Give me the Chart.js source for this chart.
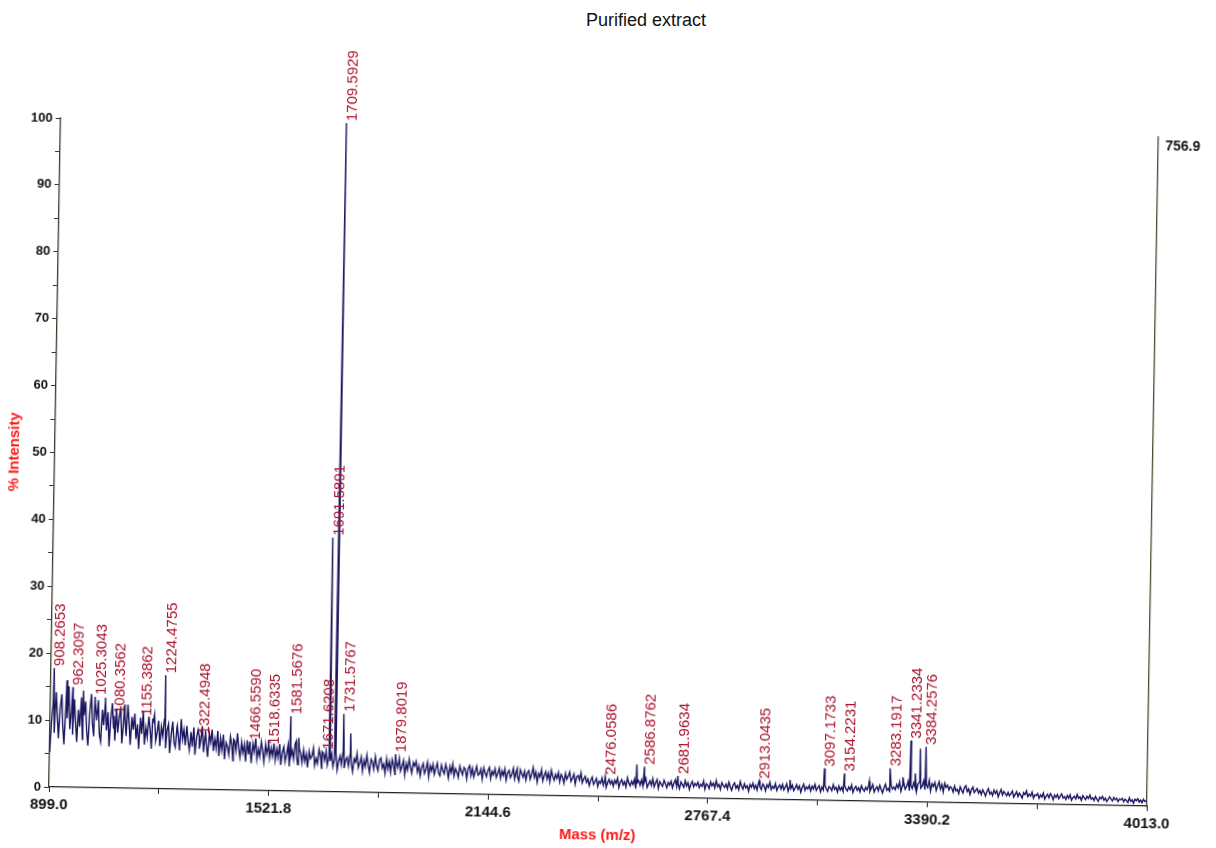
<!DOCTYPE html>
<html>
<head>
<meta charset="utf-8">
<script src="https://cdn.jsdelivr.net/npm/chart.js@4.4.1/dist/chart.umd.min.js"></script>
<style>
  html, body { margin: 0; padding: 0; background: #fff; width: 1216px; height: 848px; overflow: hidden; }
  #title { position: absolute; left: 646px; top: 9px; transform: translateX(-50%);
           font: 18px "Liberation Sans", Arial, sans-serif; color: #111; white-space: nowrap; line-height: 22px; }
  #wrap { position: absolute; left: 0; top: 0; width: 1216px; height: 848px;
          transform: rotate(1deg); transform-origin: 49px 787px; }
</style>
</head>
<body>
<div id="title">Purified extract</div>
<div id="wrap"><canvas id="spectrum"></canvas></div>
<script>
// Axis ticks (m/z) and labels
const xMajorTicks = [899.0, 1521.8, 2144.6, 2767.4, 3390.2, 4013.0];
const xTickLabels = ['899.0', '1521.8', '2144.6', '2767.4', '3390.2', '4013.0'];
const yTickLabels = ['0', '10', '20', '30', '40', '50', '60', '70', '80', '90', '100'];
const rightAxisLabel = '756.9';

// Baseline trace: % intensity sampled every 4 Da from 899 Da (20 samples per row)
const massStart = 899;
const massStep = 4;
const noiseIntensity = [
  5.2, 9.8, 12.6, 8.1, 14.2, 10.9, 7.3, 11.8, 13.9, 9.2, 6.4, 12.1, 10.3, 15.1, 8.7, 11.4, 7.9, 13.2, 10.0, 6.8,
  11.6, 9.1, 13.5, 7.2, 10.8, 12.9, 8.4, 6.3, 11.2, 14.0, 9.6, 7.7, 12.3, 10.1, 13.1, 8.0, 6.9, 11.7, 9.4, 12.8,
  8.6, 11.3, 6.2, 10.4, 12.7, 9.0, 7.1, 11.9, 8.3, 10.6, 12.2, 6.7, 9.5, 11.0, 7.8, 12.5, 9.9, 6.5, 10.7, 8.8,
  11.2, 7.4, 9.6, 5.9, 10.3, 8.2, 11.5, 6.6, 9.1, 7.7, 10.8, 8.9, 6.0, 9.8, 11.1, 7.2, 8.5, 10.2, 6.4, 9.3,
  7.9, 10.4, 6.1, 8.8, 9.7, 5.4, 8.2, 10.1, 7.0, 6.3, 9.2, 8.0, 5.8, 10.5, 7.5, 8.9, 6.6, 9.5, 7.2, 5.9,
  8.6, 6.4, 9.3, 5.2, 7.8, 8.9, 6.1, 7.3, 9.5, 5.6, 8.0, 6.8, 4.9, 8.4, 7.1, 9.0, 5.8, 7.6, 6.2, 8.8,
  5.1, 7.7, 6.0, 8.3, 4.6, 7.1, 6.5, 5.3, 8.0, 6.8, 4.4, 7.4, 5.9, 8.5, 6.2, 4.9, 7.2, 5.6, 6.9, 4.3,
  7.5, 5.4, 6.6, 4.1, 7.0, 5.8, 7.8, 4.7, 6.2, 5.1, 7.3, 6.0, 4.3, 6.9, 5.5, 7.6, 4.9, 6.4, 5.2, 7.1,
  4.6, 6.3, 5.0, 7.0, 3.9, 5.8, 6.6, 4.4, 5.5, 6.9, 3.7, 5.2, 6.1, 4.8, 7.1, 5.4, 4.0, 6.4, 5.7, 4.3,
  6.2, 4.5, 5.6, 3.6, 6.0, 4.9, 5.3, 6.5, 3.9, 5.0, 4.2, 6.3, 5.4, 3.5, 5.8, 4.7, 6.1, 4.0, 5.2, 4.6,
  5.7, 3.8, 4.9, 5.9, 3.3, 4.6, 5.4, 4.1, 6.0, 3.6, 4.8, 5.2, 3.9, 5.6, 4.3, 3.1, 5.0, 4.5, 5.8, 3.7,
  4.4, 5.3, 3.2, 4.8, 3.9, 5.6, 4.1, 3.0, 5.0, 4.6, 3.5, 5.4, 4.0, 3.3, 4.9, 5.2, 3.7, 4.3, 2.9, 5.1,
  3.6, 4.7, 3.1, 5.0, 4.2, 2.8, 4.5, 3.8, 5.2, 3.3, 4.0, 4.9, 2.7, 4.4, 3.5, 5.1, 3.9, 3.0, 4.6, 4.1,
  4.8, 3.2, 4.1, 2.6, 3.9, 4.5, 3.0, 3.6, 4.7, 2.5, 4.2, 3.4, 4.4, 2.9, 3.8, 4.6, 3.1, 2.7, 4.3, 3.5,
  3.0, 4.4, 3.6, 2.4, 4.1, 3.2, 4.5, 2.7, 3.8, 3.3, 2.5, 4.2, 3.5, 2.9, 4.0, 3.7, 2.3, 3.9, 4.3, 2.8,
  3.9, 2.6, 3.4, 4.2, 2.9, 3.1, 3.8, 2.3, 4.0, 3.3, 2.7, 3.6, 4.1, 2.4, 3.5, 3.0, 3.9, 2.6, 3.2, 4.0,
  2.5, 3.6, 2.9, 3.9, 2.2, 3.3, 3.7, 2.6, 3.1, 4.0, 2.4, 3.5, 2.8, 2.1, 3.8, 3.2, 2.7, 3.6, 2.3, 3.4,
  3.7, 2.4, 3.1, 4.2, 2.7, 3.5, 2.0, 3.3, 2.8, 3.9, 2.2, 3.0, 3.6, 2.5, 3.4, 2.1, 3.8, 2.9, 2.3, 3.2,
  2.6, 3.5, 2.1, 3.2, 2.8, 1.9, 3.4, 2.5, 3.0, 3.6, 2.2, 2.7, 3.3, 1.8, 2.9, 3.1, 2.4, 3.5, 2.0, 2.6,
  3.0, 2.1, 2.6, 1.6, 2.4, 2.9, 1.8, 2.2, 2.7, 1.5, 2.3, 2.0, 2.8, 1.7, 2.5, 1.4, 2.1, 2.6, 1.9, 2.4,
  1.6, 2.5, 2.0, 2.8, 1.4, 2.2, 2.6, 1.8, 2.3, 1.5, 2.9, 2.1, 1.7, 2.4, 1.9, 2.7, 1.3, 2.2, 2.5, 1.8,
  2.6, 1.7, 2.3, 2.9, 1.5, 2.0, 2.5, 1.8, 2.8, 1.6, 2.2, 2.7, 1.4, 2.4, 2.0, 1.7, 2.6, 2.1, 1.5, 2.3,
  1.9, 2.5, 1.5, 2.2, 2.7, 1.7, 2.1, 1.4, 2.4, 2.0, 1.6, 2.6, 1.8, 2.3, 1.3, 2.1, 2.5, 1.7, 2.2, 1.9,
  2.4, 1.6, 2.1, 1.8, 2.6, 1.4, 2.2, 2.0, 1.5, 2.5, 1.9, 2.3, 1.6, 2.7, 1.8, 2.1, 1.4, 2.4, 2.0, 1.7,
  2.2, 1.5, 2.5, 1.8, 1.3, 2.1, 2.4, 1.6, 2.0, 1.4, 2.6, 1.9, 1.5, 2.3, 1.7, 2.0, 1.2, 2.2, 1.8, 2.4,
  1.6, 2.1, 1.4, 2.5, 1.9, 1.5, 2.3, 2.0, 1.3, 2.2, 1.8, 2.6, 1.5, 2.0, 1.7, 2.4, 1.4, 1.9, 2.2, 1.6,
  2.3, 1.5, 1.9, 2.4, 1.3, 2.0, 1.7, 2.2, 1.4, 1.8, 2.3, 1.6, 2.1, 1.2, 1.9, 2.4, 1.5, 2.0, 1.7, 2.2,
  1.4, 2.1, 1.7, 2.4, 1.5, 1.9, 2.2, 1.3, 2.0, 1.6, 2.3, 1.8, 1.4, 2.1, 1.9, 1.5, 2.4, 1.7, 2.0, 1.3,
  2.2, 1.6, 2.0, 1.4, 2.3, 1.8, 1.5, 2.1, 1.7, 2.4, 1.3, 1.9, 2.2, 1.6, 2.0, 1.4, 2.3, 1.8, 1.5, 2.1,
  1.7, 2.3, 1.5, 2.0, 2.5, 1.4, 1.9, 2.2, 1.6, 2.4, 1.8, 1.3, 2.1, 2.6, 1.7, 2.0, 1.5, 2.4, 1.9, 2.2,
  1.8, 2.6, 2.1, 3.0, 1.6, 2.4, 2.8, 1.9, 2.3, 3.1, 1.7, 2.5, 2.0, 2.9, 2.2, 1.6, 2.7, 3.0, 2.1, 2.4,
  3.2, 1.9, 2.6, 2.2, 3.3, 1.7, 2.8, 2.4, 3.0, 1.8, 2.5, 3.1, 2.0, 2.7, 1.6, 2.9, 2.3, 2.6, 1.9, 2.4,
  2.2, 1.6, 2.5, 1.8, 2.0, 1.4, 2.4, 1.9, 1.5, 2.3, 2.6, 1.7, 2.1, 1.3, 2.0, 2.4, 1.6, 1.9, 2.2, 1.5,
  1.9, 1.3, 2.0, 1.6, 1.1, 1.8, 2.2, 1.4, 1.7, 1.2, 2.0, 1.5, 1.9, 1.0, 1.6, 2.1, 1.3, 1.8, 1.5, 1.2,
  1.7, 1.2, 1.5, 1.9, 1.0, 1.4, 1.8, 1.1, 1.6, 1.3, 0.9, 1.7, 1.4, 1.95, 1.1, 1.5, 1.2, 1.8, 0.9, 1.4,
  1.3, 1.6, 0.9, 1.4, 1.1, 1.7, 0.8, 1.2, 1.5, 1.0, 1.6, 1.3, 0.7, 1.4, 1.1, 1.5, 0.9, 1.3, 1.6, 1.0,
  1.2, 0.8, 1.4, 1.0, 1.5, 0.7, 1.1, 1.3, 0.9, 1.55, 1.0, 1.2, 0.7, 1.4, 1.1, 0.8, 1.3, 1.0, 1.5, 0.9,
  1.1, 0.7, 1.3, 0.9, 0.6, 1.2, 1.0, 1.35, 0.8, 1.1, 0.6, 0.9, 1.3, 1.0, 0.7, 1.2, 0.9, 1.1, 0.6, 1.0,
  0.9, 1.1, 0.6, 1.0, 0.8, 0.5, 1.2, 0.7, 0.9, 0.4, 1.0, 0.8, 1.1, 0.6, 0.9, 0.5, 1.0, 0.7, 0.8, 0.6
];

// Annotated peaks
const peakMass = [908.2653, 962.3097, 1025.3043, 1080.3562, 1155.3862, 1224.4755, 1322.4948,
  1466.5590, 1518.6335, 1581.5676, 1671.6208, 1691.5891, 1709.5929, 1731.5767, 1879.8019,
  2476.0586, 2586.8762, 2681.9634, 2913.0435, 3097.1733, 3154.2231, 3283.1917, 3341.2334, 3384.2576];
const peakIntensity = [17.8, 15.0, 13.6, 10.8, 10.6, 17.0, 8.0,
  7.3, 6.6, 11.2, 6.0, 38.0, 100, 11.7, 5.8,
  3.0, 4.6, 3.3, 2.8, 4.8, 4.1, 5.0, 9.2, 8.3];
const peakLabel = ['908.2653', '962.3097', '1025.3043', '1080.3562', '1155.3862', '1224.4755', '1322.4948',
  '1466.5590', '1518.6335', '1581.5676', '1671.6208', '1691.5891', '1709.5929', '1731.5767', '1879.8019',
  '2476.0586', '2586.8762', '2681.9634', '2913.0435', '3097.1733', '3154.2231', '3283.1917', '3341.2334', '3384.2576'];

// Unlabelled spikes
const minorPeakMass = [945, 992, 1055, 1110, 1190, 1260, 1340, 1420, 1598, 1605, 1752, 2226, 2565, 3000, 3225, 3320, 3355, 3368];
const minorPeakIntensity = [16.0, 14.5, 13.5, 12.5, 10.5, 9.5, 8.8, 7.6, 7.5, 8.0, 8.8, 4.0, 4.9, 3.0, 3.0, 3.7, 4.3, 8.0];

const traceColor = '#1a1660';
const labelColor = '#a8122c';
const fontFamily = '"Liberation Sans", Arial, Helvetica, sans-serif';

// One continuous profile: baseline samples with the peak apexes merged in by mass
const tracePoints = noiseIntensity.map((v, i) => ({ x: massStart + i * massStep, y: v }))
  .concat(peakMass.map((m, i) => ({ x: m, y: peakIntensity[i] })))
  .concat(minorPeakMass.map((m, i) => ({ x: m, y: minorPeakIntensity[i] })))
  .sort((a, b) => a.x - b.x);

const xTickValues = [];
xMajorTicks.forEach((v, i) => {
  xTickValues.push(v);
  if (i < xMajorTicks.length - 1) xTickValues.push((v + xMajorTicks[i + 1]) / 2);
});

// Rotated m/z labels above the annotated peak apexes (dataset 0)
const peakLabelPlugin = {
  id: 'peakLabels',
  afterDatasetsDraw(chart) {
    const meta = chart.getDatasetMeta(0);
    const ctx = chart.ctx;
    ctx.save();
    ctx.font = '15px ' + fontFamily;
    ctx.fillStyle = labelColor;
    ctx.textAlign = 'left';
    ctx.textBaseline = 'middle';
    peakLabel.forEach((txt, i) => {
      const el = meta.data[i];
      ctx.save();
      ctx.translate(el.x + 6, el.y - 2);
      ctx.rotate(-Math.PI / 2);
      ctx.fillText(txt, 0, 0);
      ctx.restore();
    });
    ctx.restore();
  }
};

new Chart(document.getElementById('spectrum'), {
  type: 'line',
  data: {
    datasets: [
      {
        data: peakMass.map((m, i) => ({ x: m, y: peakIntensity[i] })),
        showLine: false,
        pointRadius: 0,
        order: 0
      },
      {
        data: tracePoints,
        borderColor: traceColor,
        borderWidth: 1.4,
        pointRadius: 0,
        tension: 0,
        order: 1
      }
    ]
  },
  options: {
    responsive: true,
    maintainAspectRatio: false,
    animation: false,
    devicePixelRatio: 1,
    layout: { padding: { top: 118, left: 0, right: 0, bottom: 0 } },
    plugins: { legend: { display: false }, tooltip: { enabled: false }, title: { display: false } },
    scales: {
      x: {
        type: 'linear',
        min: xMajorTicks[0],
        max: xMajorTicks[xMajorTicks.length - 1],
        offset: false,
        afterBuildTicks: (s) => { s.ticks = xTickValues.map(v => ({ value: v })); },
        afterFit: (s) => { s.height = 61; },
        grid: { offset: false, drawOnChartArea: false, drawTicks: true, tickLength: 5, tickColor: '#222', tickWidth: 1 },
        border: { display: true, color: '#222', width: 1.3 },
        ticks: {
          autoSkip: false, maxRotation: 0, padding: 4, color: '#111',
          font: { family: fontFamily, size: 15, weight: 'bold' },
          callback: (v) => {
            const k = xMajorTicks.indexOf(v);
            return k >= 0 ? xTickLabels[k] : '';
          }
        },
        title: {
          display: true, text: 'Mass (m/z)', color: '#ff1616',
          font: { family: fontFamily, size: 15, weight: 'bold' },
          padding: { top: 0, bottom: 13 }
        }
      },
      y: {
        position: 'left',
        min: 0, max: 100,
        afterFit: (s) => { s.width = 49; },
        grid: { drawOnChartArea: false, drawTicks: true, tickLength: 5, tickColor: '#333', tickWidth: 1 },
        border: { display: true, color: '#3a3a2a', width: 1.3 },
        ticks: {
          stepSize: 5, autoSkip: false, padding: 3, color: '#111',
          font: { family: fontFamily, size: 13, weight: 'bold' },
          callback: (v) => (v % 10 === 0 ? yTickLabels[v / 10] : '')
        },
        title: {
          display: true, text: '% Intensity', color: '#ff1616',
          font: { family: fontFamily, size: 15, weight: 'bold' },
          padding: { top: 0, bottom: 0 }
        }
      },
      y2: {
        position: 'right',
        min: 0, max: 100,
        afterFit: (s) => { s.width = 69; },
        afterBuildTicks: (s) => { s.ticks = [{ value: 100 }]; },
        grid: { drawOnChartArea: false, drawTicks: false },
        border: { display: true, color: '#4a4a30', width: 1.3 },
        ticks: {
          padding: 7, labelOffset: 9, color: '#111',
          font: { family: fontFamily, size: 14, weight: 'bold' },
          callback: () => rightAxisLabel
        }
      }
    }
  },
  plugins: [peakLabelPlugin]
});
</script>
</body>
</html>
